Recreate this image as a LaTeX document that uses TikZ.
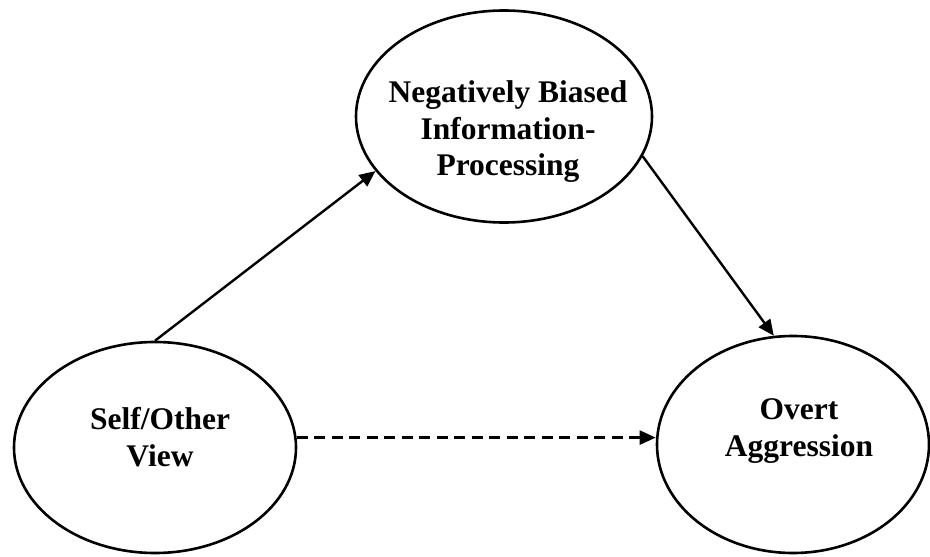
\documentclass[tikz,border=0pt]{standalone}
\usepackage{fontspec}
\setmainfont{Liberation Serif}
\usetikzlibrary{arrows.meta,shapes.geometric}

\begin{document}
\begin{tikzpicture}[x=1pt,y=-1pt,
  oval/.style={ellipse, draw, line width=2.6pt, inner sep=0pt},
  caption/.style={align=center, inner sep=0pt,
    font=\fontsize{31.5}{36.5}\selectfont\bfseries},
  link/.style={line width=2.4pt, -{Triangle[length=16pt,width=14pt]}},
  weaklink/.style={link, dash pattern=on 11pt off 6.5pt}]

  \useasboundingbox (0,0) rectangle (930,557);

  % the three constructs
  \node[oval, minimum width=296pt, minimum height=212pt] (nbip) at (504,116.5) {};
  \node[oval, minimum width=282pt, minimum height=211pt] (sov)  at (155,447.5) {};
  \node[oval, minimum width=272pt, minimum height=217pt] (oa)   at (793,444.5) {};

  \node[caption] (nbipText) at (508,132) {Negatively Biased\\Information-\\Processing};
  \node[caption] (sovText)  at (160,437) {Self/Other\\View};
  \node[caption] (oaText)   at (799,431) {Overt\\Aggression};

  % paths between them
  \draw[link] (sov.north) -- (nbip.203);
  \draw[link] (nbip.344) -- (oa.100.4);
  \draw[weaklink] (sov.4) -- (sov.4 -| oa.west);
\end{tikzpicture}
\end{document}
